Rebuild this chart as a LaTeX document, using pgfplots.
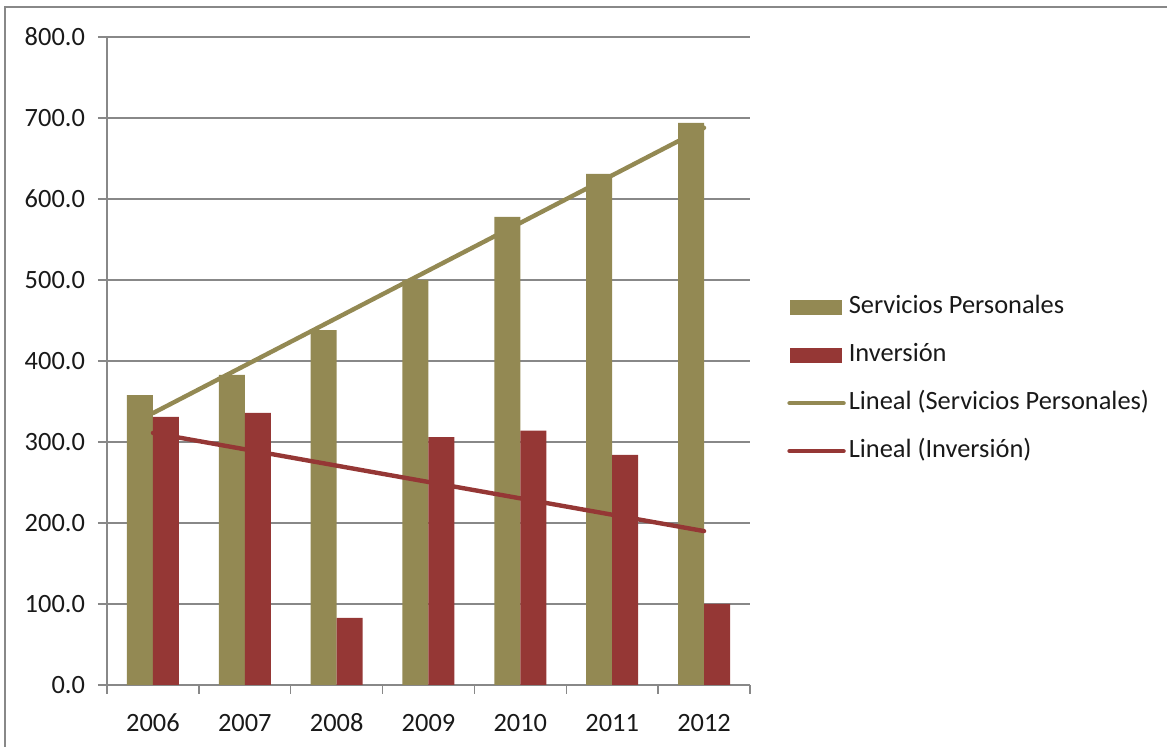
\documentclass[border=0pt]{standalone}
\usepackage{fontspec}
\setmainfont{Carlito}
\usepackage{pgfplots}
\pgfplotsset{compat=1.18}
\definecolor{tan}{HTML}{938953}
\definecolor{rojo}{HTML}{953735}
\definecolor{rejilla}{HTML}{888888}
\begin{document}
\begin{tikzpicture}[font=\fontsize{13.2}{15.5}\selectfont]
\useasboundingbox (-53.5pt,-31pt) rectangle (530pt,342.5pt);
\draw[rejilla, line width=1.2pt] (-51pt,-40pt) -- (-51pt,339pt) -- (540pt,339pt);
\begin{axis}[
  at={(0,0)}, anchor=south west,
  scale only axis, width=321.5pt, height=324pt,
  xmin=-0.5, xmax=6.5, ymin=0, ymax=800,
  axis x line=bottom, axis y line=left,
  axis line style={rejilla, line width=0.7pt, -},
  xtick={0,...,6},
  xticklabels={2006,2007,2008,2009,2010,2011,2012},
  minor xtick={-0.5,0.5,...,6.5},
  ytick={0,100,...,800},
  tick align=outside,
  major tick length=4.5pt, minor tick length=4.5pt,
  major x tick style={draw=none},
  tick style={rejilla, line width=0.7pt},
  ymajorgrids,
  grid style={rejilla, line width=0.7pt},
  yticklabel style={/pgf/number format/.cd, fixed, fixed zerofill, precision=1, /tikz/.cd, xshift=-3pt},
  /pgf/number format/assume math mode=true,
  scaled y ticks=false,
  ticklabel style={text=black!90},
  xticklabel style={yshift=-6pt, text height=9pt, text depth=0pt},
  legend style={at={(axis description cs:1.0575,0.472)}, anchor=west,
    draw=none, fill=none, inner sep=0pt, row sep=12pt,
    nodes={inner xsep=1.5pt, inner ysep=0pt, text height=9pt, text depth=3pt, text=black!90}},
  legend cell align=left,
]
\addplot[ybar, bar width=13pt, bar shift=-6.5pt, fill=tan, draw=none,
  legend image code/.code={\fill[tan] (0pt,-3.7pt) rectangle (26pt,3.7pt);}]
  coordinates {(0,358) (1,383) (2,438) (3,500) (4,578) (5,631) (6,694)};
\addlegendentry{Servicios Personales}
\addplot[ybar, bar width=13pt, bar shift=6.5pt, fill=rojo, draw=none,
  legend image code/.code={\fill[rojo] (0pt,-3.7pt) rectangle (26pt,3.7pt);}]
  coordinates {(0,331) (1,336) (2,83) (3,306) (4,314) (5,284) (6,100)};
\addlegendentry{Inversión}
\addplot[sharp plot, no marks, color=tan, line width=2.2pt, line cap=round,
  legend image code/.code={\draw[tan, line width=2.2pt, line cap=round] (0pt,0pt) -- (27pt,0pt);}]
  coordinates {(0,335.6) (6,687.9)};
\addlegendentry{Lineal (Servicios Personales)}
\addplot[sharp plot, no marks, color=rojo, line width=2.2pt, line cap=round,
  legend image code/.code={\draw[rojo, line width=2.2pt, line cap=round] (0pt,0pt) -- (27pt,0pt);}]
  coordinates {(0,311.2) (6,190.0)};
\addlegendentry{Lineal (Inversión)}
\end{axis}
\end{tikzpicture}
\end{document}
